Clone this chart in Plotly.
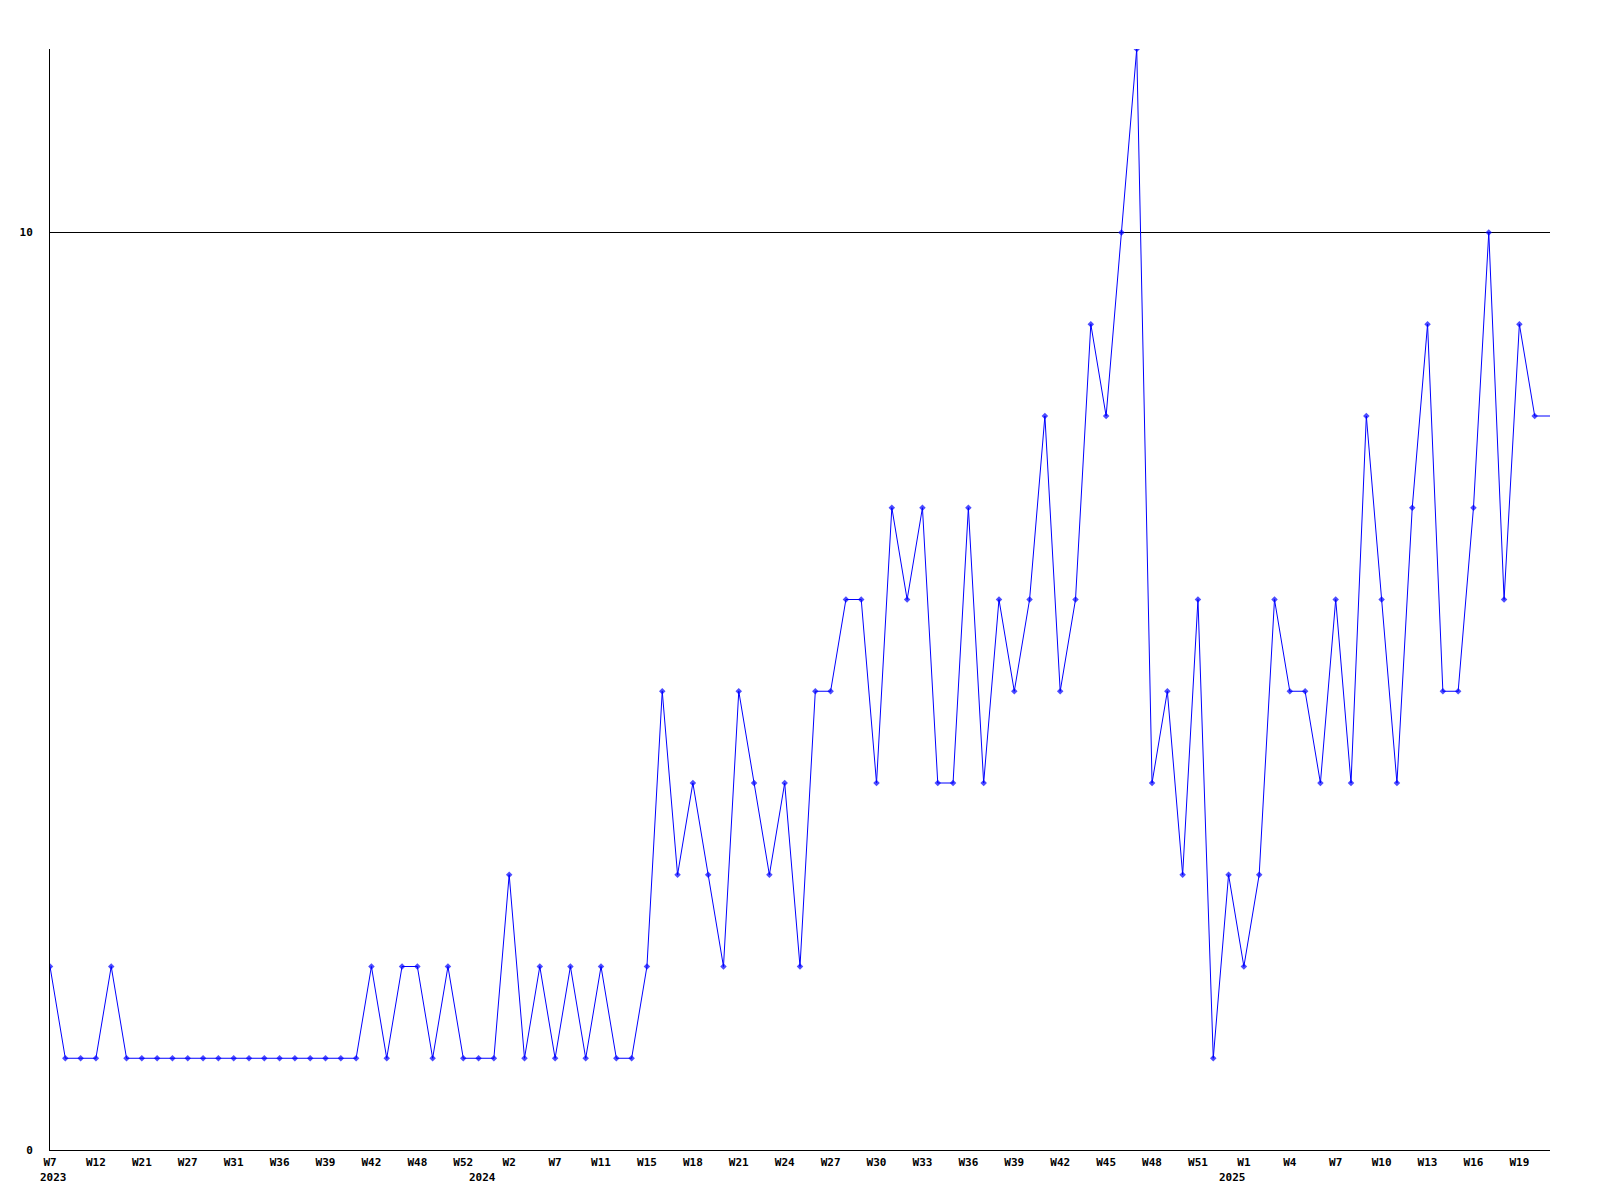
import plotly.graph_objects as go

values = [2, 1, 1, 1, 2, 1, 1, 1, 1, 1, 1, 1, 1, 1, 1, 1, 1, 1, 1, 1,
          1, 2, 1, 2, 2, 1, 2, 1, 1, 1, 3, 1, 2, 1, 2, 1, 2, 1, 1, 2,
          5, 3, 4, 3, 2, 5, 4, 3, 4, 2, 5, 5, 6, 6, 4, 7, 6, 7, 4, 4,
          7, 4, 6, 5, 6, 8, 5, 6, 9, 8, 10, 12, 4, 5, 3, 6, 1, 3, 2, 3,
          6, 5, 5, 4, 6, 4, 8, 6, 4, 7, 9, 5, 5, 7, 10, 6, 9, 8, 8]

tick_labels = ["W7", "W12", "W21", "W27", "W31", "W36", "W39", "W42", "W48", "W52",
               "W2", "W7", "W11", "W15", "W18", "W21", "W24", "W27", "W30", "W33",
               "W36", "W39", "W42", "W45", "W48", "W51", "W1", "W4", "W7", "W10",
               "W13", "W16", "W19"]
tick_step = 3

years = ["2023", "2024", "2025"]
year_index = [0, 28, 77]

x = list(range(len(values)))
marker_sizes = [5] * (len(values) - 1) + [0]

font = dict(family="DejaVu Sans Mono", size=11, color="black")

fig = go.Figure()
fig.add_trace(go.Scatter(
    x=x, y=values, mode="lines+markers",
    line=dict(color="#0000FF", width=1),
    marker=dict(color="#0000FF", size=marker_sizes, symbol="diamond", line=dict(width=0)),
    showlegend=False, hoverinfo="skip",
))

annotations = []
for yr, idx in zip(years, year_index):
    annotations.append(dict(
        x=idx, y=0, xref="x", yref="paper", text="<b>%s</b>" % yr,
        showarrow=False, xanchor="left", yanchor="top", xshift=-12, yshift=-19,
        font=font,
    ))

fig.update_layout(
    width=1600, height=1200,
    margin=dict(l=42, r=58, t=41, b=58, autoexpand=False),
    paper_bgcolor="white", plot_bgcolor="white",
    font=font,
    annotations=annotations,
    xaxis=dict(
        range=[0, len(values) - 1],
        tickvals=x[::tick_step][:len(tick_labels)],
        ticktext=["<b>%s</b>" % t for t in tick_labels],
        showgrid=False, zeroline=False,
        showline=True, linecolor="black", linewidth=1,
        ticks="", tickfont=font, ticklabelstandoff=2,
    ),
    yaxis=dict(
        range=[0, 12],
        tickvals=[0, 10],
        ticktext=["<b>0</b>", "<b>10</b>"],
        showgrid=True, gridcolor="black", gridwidth=1,
        zeroline=False,
        showline=True, linecolor="black", linewidth=1,
        ticks="", tickfont=font, ticklabelstandoff=14,
    ),
)

fig.write_html("out.html")
